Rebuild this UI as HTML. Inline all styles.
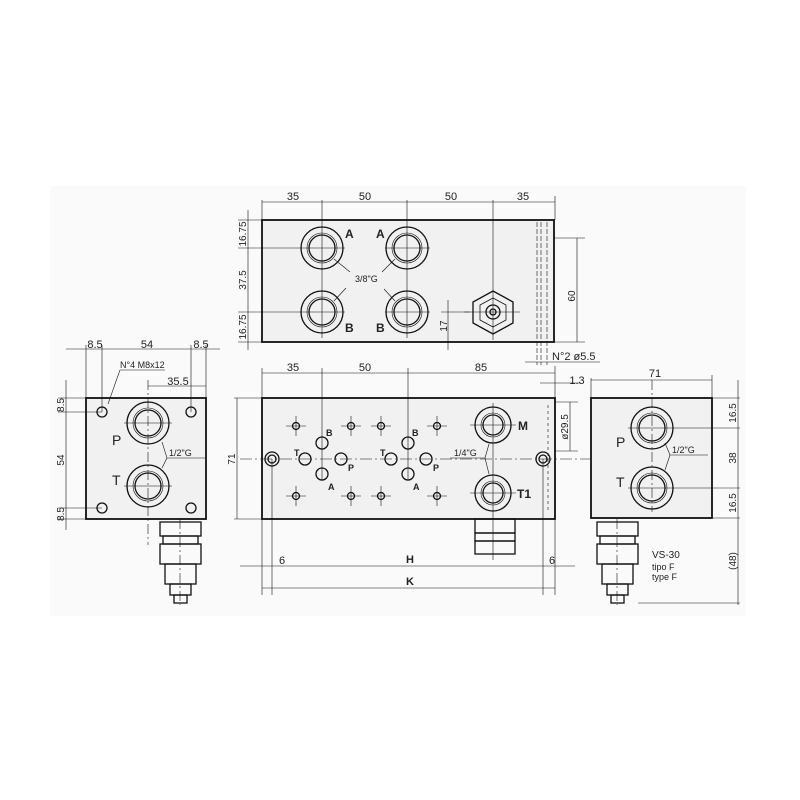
<!DOCTYPE html>
<html><head><style>body{margin:0;background:#fff}svg{display:block}text{font-family:"Liberation Sans",sans-serif;fill:#222}</style></head><body>
<svg width="800" height="800" viewBox="0 0 800 800" xmlns="http://www.w3.org/2000/svg">
<rect x="50" y="186" width="696" height="430" fill="#fafafa"/>
<g stroke="#111" fill="none" stroke-width="1">
<!-- TOP VIEW -->
<rect x="262" y="220" width="292" height="122" fill="#f1f1f1" stroke-width="1.8"/>
<g stroke-width="1.3">
<circle cx="322" cy="248" r="21"/><circle cx="322" cy="248" r="13"/><circle cx="322" cy="248" r="15" stroke-width="0.6"/>
<circle cx="407" cy="248" r="21"/><circle cx="407" cy="248" r="13"/><circle cx="407" cy="248" r="15" stroke-width="0.6"/>
<circle cx="322" cy="312" r="21"/><circle cx="322" cy="312" r="13"/><circle cx="322" cy="312" r="15" stroke-width="0.6"/>
<circle cx="407" cy="312" r="21"/><circle cx="407" cy="312" r="13"/><circle cx="407" cy="312" r="15" stroke-width="0.6"/>
<polygon points="493,291 513,302 513,323 493,334 473,323 473,302"/>
<polygon points="493,298 506,305 506,320 493,327 480,320 480,305" stroke-width="0.8"/>
<circle cx="493" cy="312" r="7"/><circle cx="493" cy="312" r="3"/>
</g>
<g stroke-width="0.6">
<line x1="300" y1="248" x2="345" y2="248"/><line x1="385" y1="248" x2="430" y2="248"/>
<line x1="300" y1="312" x2="345" y2="312"/><line x1="385" y1="312" x2="430" y2="312"/>
<line x1="322" y1="200" x2="322" y2="338"/><line x1="407" y1="200" x2="407" y2="338"/>
<line x1="493" y1="200" x2="493" y2="340"/><line x1="464" y1="312" x2="520" y2="312"/>
<line x1="334" y1="259" x2="350" y2="272"/><line x1="395" y1="259" x2="382" y2="272"/>
<line x1="334" y1="301" x2="346" y2="288"/><line x1="395" y1="301" x2="384" y2="289"/>
<line x1="262" y1="202" x2="555" y2="202"/><line x1="262" y1="200" x2="262" y2="220"/><line x1="555" y1="196" x2="555" y2="220"/>
<line x1="238" y1="220" x2="262" y2="220"/><line x1="238" y1="248" x2="300" y2="248"/><line x1="238" y1="312" x2="300" y2="312"/><line x1="238" y1="342" x2="262" y2="342"/>
<line x1="248" y1="210" x2="248" y2="350"/>
<line x1="554" y1="238" x2="585" y2="238"/><line x1="554" y1="342" x2="585" y2="342"/><line x1="577" y1="238" x2="577" y2="342"/>
<line x1="448" y1="300" x2="448" y2="350"/><line x1="441" y1="312" x2="470" y2="312"/>
<line x1="537" y1="222" x2="537" y2="365" stroke-dasharray="5,2"/><line x1="541" y1="222" x2="541" y2="365" stroke-dasharray="5,2"/><line x1="547" y1="222" x2="547" y2="365" stroke-dasharray="5,2"/>
<line x1="525" y1="362" x2="600" y2="362"/>
</g>
<!-- FRONT VIEW -->
<rect x="262" y="398" width="293" height="121" fill="#f1f1f1" stroke-width="1.8"/>
<g stroke-width="1.3">
<circle cx="272" cy="459" r="7"/><circle cx="272" cy="459" r="4"/>
<circle cx="543" cy="459" r="7"/><circle cx="543" cy="459" r="4"/>
<circle cx="493" cy="425" r="18"/><circle cx="493" cy="425" r="10"/><circle cx="493" cy="425" r="12" stroke-width="0.6"/>
<circle cx="493" cy="493" r="18"/><circle cx="493" cy="493" r="10"/><circle cx="493" cy="493" r="12" stroke-width="0.6"/>
<circle cx="322" cy="443" r="6"/><circle cx="305" cy="459" r="6"/><circle cx="341" cy="459" r="6"/><circle cx="322" cy="474" r="6"/>
<circle cx="408" cy="443" r="6"/><circle cx="391" cy="459" r="6"/><circle cx="426" cy="459" r="6"/><circle cx="408" cy="474" r="6"/>
<circle cx="296" cy="426" r="3.5"/><circle cx="351" cy="426" r="3.5"/><circle cx="381" cy="426" r="3.5"/><circle cx="437" cy="426" r="3.5"/>
<circle cx="296" cy="496" r="3.5"/><circle cx="351" cy="496" r="3.5"/><circle cx="381" cy="496" r="3.5"/><circle cx="437" cy="496" r="3.5"/>
<rect x="475" y="519" width="40" height="14"/><rect x="475" y="533" width="40" height="8"/><rect x="475" y="541" width="40" height="13"/>
</g>
<g stroke-width="0.6">
<line x1="240" y1="459" x2="590" y2="459" stroke-dasharray="12,3,2,3"/>
<line x1="322" y1="368" x2="322" y2="480"/><line x1="408" y1="368" x2="408" y2="480"/>
<line x1="493" y1="403" x2="493" y2="560"/>
<line x1="272" y1="459" x2="272" y2="595"/><line x1="543" y1="459" x2="543" y2="595"/>
<line x1="262" y1="373" x2="555" y2="373"/><line x1="262" y1="368" x2="262" y2="595"/><line x1="555" y1="366" x2="555" y2="595"/>
<line x1="240" y1="566" x2="575" y2="566"/><line x1="262" y1="588" x2="555" y2="588"/>
<line x1="234" y1="398" x2="262" y2="398"/><line x1="234" y1="519" x2="262" y2="519"/><line x1="237" y1="398" x2="237" y2="519"/>
<line x1="555" y1="402" x2="578" y2="402"/><line x1="555" y1="451" x2="578" y2="451"/><line x1="570" y1="402" x2="570" y2="451"/>
<line x1="540" y1="383" x2="580" y2="383"/>
<line x1="450" y1="458" x2="485" y2="458"/><line x1="485" y1="458" x2="489" y2="444"/><line x1="485" y1="458" x2="489" y2="474"/>
<line x1="548" y1="405" x2="548" y2="512" stroke-dasharray="3,3"/>
<line x1="286" y1="426" x2="306" y2="426"/><line x1="341" y1="426" x2="361" y2="426"/><line x1="371" y1="426" x2="391" y2="426"/><line x1="427" y1="426" x2="447" y2="426"/>
<line x1="286" y1="496" x2="306" y2="496"/><line x1="341" y1="496" x2="361" y2="496"/><line x1="371" y1="496" x2="391" y2="496"/><line x1="427" y1="496" x2="447" y2="496"/>
<line x1="296" y1="416" x2="296" y2="436"/><line x1="351" y1="416" x2="351" y2="436"/><line x1="381" y1="416" x2="381" y2="436"/><line x1="437" y1="416" x2="437" y2="436"/>
<line x1="296" y1="486" x2="296" y2="506"/><line x1="351" y1="486" x2="351" y2="506"/><line x1="381" y1="486" x2="381" y2="506"/><line x1="437" y1="486" x2="437" y2="506"/>
<line x1="470" y1="425" x2="516" y2="425"/><line x1="470" y1="493" x2="516" y2="493"/>
</g>
<!-- LEFT VIEW -->
<rect x="86" y="398" width="120" height="121" fill="#f1f1f1" stroke-width="1.8"/>
<g stroke-width="1.3">
<circle cx="102" cy="412" r="5"/><circle cx="191" cy="412" r="5"/><circle cx="102" cy="508" r="5"/><circle cx="191" cy="508" r="5"/>
<circle cx="148" cy="423" r="21"/><circle cx="148" cy="423" r="13"/><circle cx="148" cy="423" r="15" stroke-width="0.6"/>
<circle cx="148" cy="486" r="21"/><circle cx="148" cy="486" r="13"/><circle cx="148" cy="486" r="15" stroke-width="0.6"/>
<rect x="160" y="522" width="41" height="14"/><rect x="163" y="536" width="35" height="8"/><rect x="160" y="544" width="41" height="20"/><rect x="165" y="564" width="31" height="20"/><rect x="170" y="584" width="21" height="11"/><rect x="174" y="595" width="13" height="8"/>
</g>
<g stroke-width="0.6">
<line x1="148" y1="380" x2="148" y2="545" stroke-dasharray="10,3,2,3"/><line x1="180" y1="519" x2="180" y2="605" stroke-dasharray="10,3,2,3"/>
<line x1="124" y1="423" x2="172" y2="423"/><line x1="124" y1="486" x2="172" y2="486"/>
<line x1="66" y1="349" x2="220" y2="349"/><line x1="86" y1="345" x2="86" y2="398"/><line x1="102" y1="345" x2="102" y2="412"/><line x1="191" y1="345" x2="191" y2="412"/><line x1="206" y1="345" x2="206" y2="398"/>
<line x1="148" y1="386" x2="206" y2="386"/>
<line x1="58" y1="398" x2="86" y2="398"/><line x1="58" y1="412" x2="102" y2="412"/><line x1="58" y1="508" x2="102" y2="508"/><line x1="58" y1="519" x2="86" y2="519"/>
<line x1="66" y1="380" x2="66" y2="530"/>
<line x1="108" y1="404" x2="120" y2="370"/><line x1="120" y1="370" x2="165" y2="370"/>
<line x1="162" y1="442" x2="167" y2="458"/><line x1="162" y1="468" x2="167" y2="458"/><line x1="167" y1="458" x2="205" y2="458"/>
</g>
<!-- RIGHT VIEW -->
<rect x="591" y="398" width="121" height="120" fill="#f1f1f1" stroke-width="1.8"/>
<g stroke-width="1.3">
<circle cx="652" cy="428" r="21"/><circle cx="652" cy="428" r="13"/><circle cx="652" cy="428" r="15" stroke-width="0.6"/>
<circle cx="652" cy="488" r="21"/><circle cx="652" cy="488" r="13"/><circle cx="652" cy="488" r="15" stroke-width="0.6"/>
<rect x="597" y="522" width="41" height="14"/><rect x="600" y="536" width="35" height="8"/><rect x="597" y="544" width="41" height="20"/><rect x="602" y="564" width="31" height="20"/><rect x="607" y="584" width="21" height="11"/><rect x="611" y="595" width="13" height="8"/>
</g>
<g stroke-width="0.6">
<line x1="652" y1="380" x2="652" y2="512" stroke-dasharray="10,3,2,3"/><line x1="617" y1="519" x2="617" y2="605" stroke-dasharray="10,3,2,3"/>
<line x1="628" y1="428" x2="740" y2="428"/><line x1="628" y1="488" x2="740" y2="488"/>
<line x1="591" y1="378" x2="591" y2="398"/><line x1="712" y1="375" x2="712" y2="398"/><line x1="591" y1="380" x2="712" y2="380"/>
<line x1="712" y1="398" x2="740" y2="398"/><line x1="712" y1="518" x2="740" y2="518"/><line x1="638" y1="603" x2="740" y2="603"/>
<line x1="738" y1="380" x2="738" y2="605"/>
<line x1="665" y1="443" x2="670" y2="455"/><line x1="665" y1="470" x2="670" y2="455"/><line x1="670" y1="455" x2="708" y2="455"/>
</g>
</g>
<g font-size="11" text-anchor="middle">
<text x="293" y="200">35</text><text x="365" y="200">50</text><text x="451" y="200">50</text><text x="523" y="200">35</text>
<text x="293" y="371">35</text><text x="365" y="371">50</text><text x="481" y="371">85</text>
<text x="95" y="348">8.5</text><text x="147" y="348">54</text><text x="201" y="348">8.5</text>
<text x="178" y="385">35.5</text><text x="655" y="377">71</text>
<text x="577" y="384">1.3</text>
<text x="282" y="564">6</text><text x="552" y="564">6</text>
<text x="410" y="563" font-weight="bold">H</text><text x="410" y="585" font-weight="bold">K</text>
</g>
<g font-size="11">
<text x="552" y="360">N°2  ø5.5</text>
<text x="652" y="558" font-size="10">VS-30</text><text x="652" y="570" font-size="9">tipo F</text><text x="652" y="580" font-size="9">type F</text>
</g>
<g font-size="9">
<text x="355" y="282">3/8"G</text><text x="454" y="456">1/4"G</text><text x="169" y="456">1/2"G</text><text x="672" y="453">1/2"G</text><text x="120" y="368">N°4  M8x12</text>
</g>
<g font-size="12" font-weight="bold">
<text x="345" y="238">A</text><text x="376" y="238">A</text><text x="345" y="332">B</text><text x="376" y="332">B</text>
<text x="518" y="430">M</text><text x="517" y="498">T1</text>
<text x="112" y="445" font-weight="normal" font-size="14">P</text><text x="112" y="485" font-weight="normal" font-size="14">T</text>
<text x="616" y="447" font-weight="normal" font-size="14">P</text><text x="616" y="487" font-weight="normal" font-size="14">T</text>
</g>
<g font-size="9" font-weight="bold">
<text x="326" y="436">B</text><text x="294" y="456">T</text><text x="348" y="471">P</text><text x="328" y="490">A</text>
<text x="412" y="436">B</text><text x="380" y="456">T</text><text x="433" y="471">P</text><text x="413" y="490">A</text>
</g>
<g font-size="10" text-anchor="middle">
<text transform="translate(246,234) rotate(-90)">16.75</text>
<text transform="translate(246,280) rotate(-90)">37.5</text>
<text transform="translate(246,327) rotate(-90)">16.75</text>
<text transform="translate(575,296) rotate(-90)">60</text>
<text transform="translate(447,326) rotate(-90)">17</text>
<text transform="translate(64,405) rotate(-90)">8.5</text>
<text transform="translate(64,460) rotate(-90)">54</text>
<text transform="translate(64,514) rotate(-90)">8.5</text>
<text transform="translate(235,459) rotate(-90)">71</text>
<text transform="translate(568,427) rotate(-90)">ø29.5</text>
<text transform="translate(736,413) rotate(-90)">16.5</text>
<text transform="translate(736,458) rotate(-90)">38</text>
<text transform="translate(736,503) rotate(-90)">16.5</text>
<text transform="translate(736,561) rotate(-90)">(48)</text>
</g>
</svg>
</body></html>
